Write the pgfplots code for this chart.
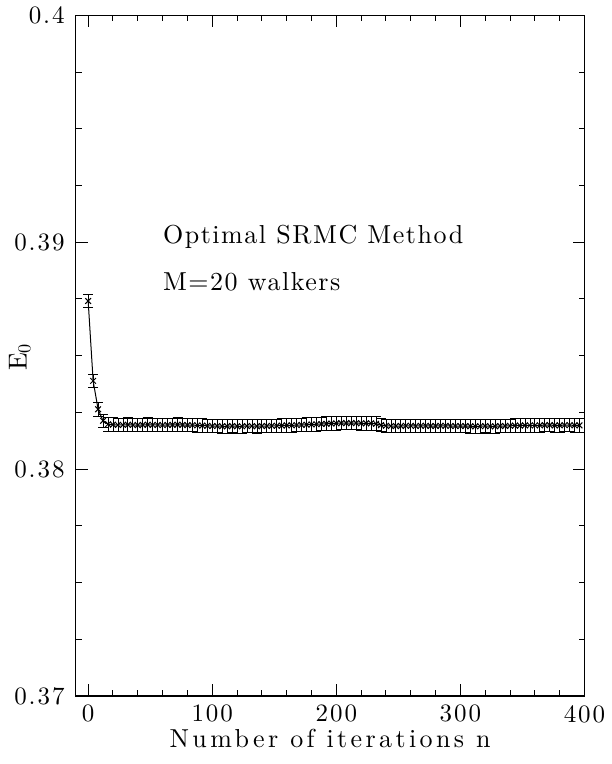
\documentclass[border=0pt]{standalone}
\usepackage{fontspec}
\setmainfont{lmroman10-regular}[Extension=.otf, BoldFont=lmroman10-bold, ItalicFont=lmroman10-italic]
\usepackage{pgfplots}
\pgfplotsset{compat=1.18}

\newcommand{\lblfont}{\fontsize{13}{15}\selectfont\addfontfeatures{LetterSpace=13}}
\newcommand{\tickfont}{\fontsize{12.5}{14}\selectfont\addfontfeatures{LetterSpace=8}}
\newcommand{\notefont}{\fontsize{13}{15}\selectfont\addfontfeatures{LetterSpace=6}}

\begin{document}
\begin{tikzpicture}
\begin{axis}[
    scale only axis,
    width=254.5pt, height=340.5pt,
    xmin=-10, xmax=400,
    ymin=0.37, ymax=0.4,
    xtick={0,100,200,300,400},
    minor x tick num=4,
    ytick={0.37,0.38,0.39,0.4},
    yticklabels={0.37,0.38,0.39,0.4},
    minor y tick num=3,
    scaled y ticks=false,
    tick align=inside,
    tick pos=both,
    major tick length=6pt,
    minor tick length=3pt,
    axis line style={line width=0.7pt},
    every tick/.style={black, line width=0.5pt},
    /pgf/number format/assume math mode=true,
    tick label style={font=\tickfont},
    xticklabel style={yshift=-1pt},
    yticklabel style={xshift=-2pt},
    xlabel={Number of iterations n},
    xlabel style={font=\lblfont, at={(axis description cs:0.5,-0.0625)}, anchor=center},
    ylabel={E\textsubscript{0}},
    ylabel style={font=\lblfont, at={(axis description cs:-0.11,0.498)}, anchor=center},
    clip=false,
]
\addplot[black, line width=0.5pt, mark=x, mark size=2pt,
    error bars/.cd, y dir=both, y explicit,
    error bar style={line width=0.4pt},
    error mark options={rotate=90, mark size=2.5pt, line width=0.5pt}]
  table[x=n, y=e, y error=d] {
n e d
0 0.38741 0.0003
4 0.38389 0.0003
8 0.38264 0.0003
12 0.38213 0.0003
16 0.38198 0.0003
20 0.38196 0.0003
24 0.38195 0.0003
28 0.38195 0.0003
32 0.38196 0.0003
36 0.38195 0.0003
40 0.38194 0.0003
44 0.38195 0.0003
48 0.38196 0.0003
52 0.38195 0.0003
56 0.38195 0.0003
60 0.38194 0.0003
64 0.38195 0.0003
68 0.38195 0.0003
72 0.38196 0.0003
76 0.38195 0.0003
80 0.38194 0.0003
84 0.38194 0.0003
88 0.38193 0.0003
92 0.38192 0.0003
96 0.38191 0.0003
100 0.38190 0.0003
104 0.38190 0.0003
108 0.38189 0.0003
112 0.38189 0.0003
116 0.38190 0.0003
120 0.38189 0.0003
124 0.38189 0.0003
128 0.38190 0.0003
132 0.38190 0.0003
136 0.38189 0.0003
140 0.38190 0.0003
144 0.38190 0.0003
148 0.38191 0.0003
152 0.38191 0.0003
156 0.38192 0.0003
160 0.38193 0.0003
164 0.38193 0.0003
168 0.38194 0.0003
172 0.38195 0.0003
176 0.38196 0.0003
180 0.38197 0.0003
184 0.38198 0.0003
188 0.38199 0.0003
192 0.38200 0.0003
196 0.38201 0.0003
200 0.38202 0.0003
204 0.38203 0.0003
208 0.38203 0.0003
212 0.38203 0.0003
216 0.38203 0.0003
220 0.38202 0.0003
224 0.38202 0.0003
228 0.38202 0.0003
232 0.38200 0.0003
236 0.38194 0.0003
240 0.38191 0.0003
244 0.38190 0.0003
248 0.38190 0.0003
252 0.38190 0.0003
256 0.38191 0.0003
260 0.38191 0.0003
264 0.38190 0.0003
268 0.38191 0.0003
272 0.38191 0.0003
276 0.38190 0.0003
280 0.38190 0.0003
284 0.38191 0.0003
288 0.38191 0.0003
292 0.38190 0.0003
296 0.38190 0.0003
300 0.38190 0.0003
304 0.38190 0.0003
308 0.38189 0.0003
312 0.38189 0.0003
316 0.38189 0.0003
320 0.38190 0.0003
324 0.38189 0.0003
328 0.38189 0.0003
332 0.38190 0.0003
336 0.38190 0.0003
340 0.38191 0.0003
344 0.38192 0.0003
348 0.38192 0.0003
352 0.38193 0.0003
356 0.38193 0.0003
360 0.38193 0.0003
364 0.38193 0.0003
368 0.38194 0.0003
372 0.38194 0.0003
376 0.38193 0.0003
380 0.38193 0.0003
384 0.38194 0.0003
388 0.38194 0.0003
392 0.38193 0.0003
396 0.38193 0.0003
};
\node[anchor=west, font=\notefont, inner sep=0pt] at (axis cs:60,0.39023) {Optimal SRMC Method};
\node[anchor=west, font=\notefont, inner sep=0pt] at (axis cs:60,0.38825) {M=20 walkers};
\end{axis}
\path[use as bounding box] (-37.9pt,-34pt) rectangle (267.6pt,348pt);
\end{tikzpicture}
\end{document}
